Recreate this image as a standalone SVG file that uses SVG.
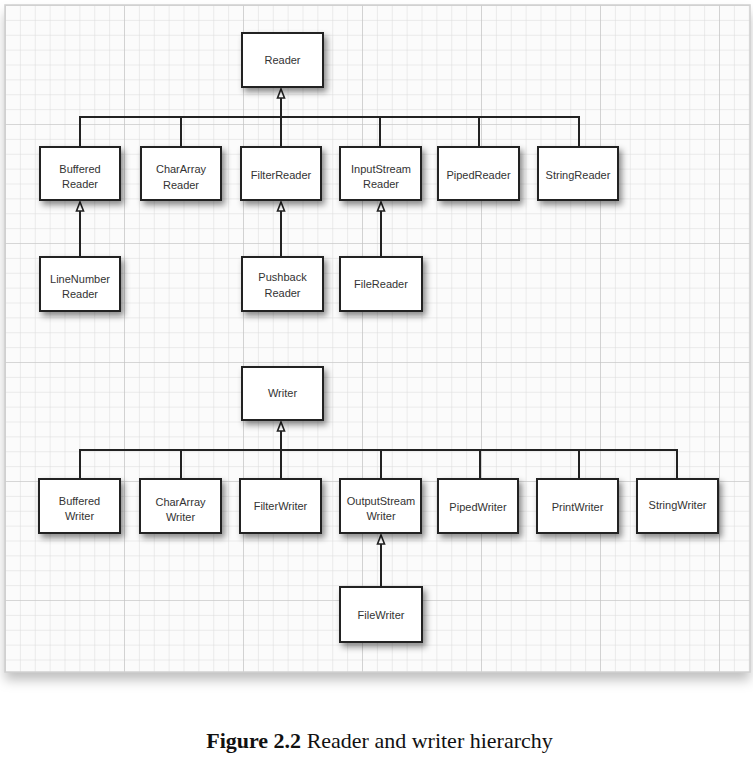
<svg xmlns="http://www.w3.org/2000/svg" width="753" height="758" viewBox="0 0 753 758">
<defs>
<pattern id="minor" x="5" y="5" width="14.875" height="14.875" patternUnits="userSpaceOnUse">
<path d="M0 0H14.875M0 0V14.875" fill="none" stroke="#dadada" stroke-width="1"/>
</pattern>
<pattern id="major" x="5" y="5" width="119" height="119" patternUnits="userSpaceOnUse">
<path d="M0 0H119M0 0V119" fill="none" stroke="#c2c2c2" stroke-width="1.2"/>
</pattern>
<filter id="sh" x="-20%" y="-20%" width="150%" height="160%">
<feDropShadow dx="3" dy="4" stdDeviation="3" flood-color="#000" flood-opacity="0.45"/>
</filter>
<filter id="psh" x="-5%" y="-5%" width="110%" height="115%">
<feDropShadow dx="0" dy="8" stdDeviation="6" flood-color="#000" flood-opacity="0.25"/>
</filter>
</defs>
<style>
.box{fill:#fff;stroke:#222;stroke-width:2;filter:url(#sh)}
.lbl{font-family:"Liberation Sans",Arial,sans-serif;font-size:11px;fill:#333;text-anchor:middle}
.ln{fill:none;stroke:#222;stroke-width:2}
.ah{fill:#fff;stroke:#222;stroke-width:1.6;stroke-linejoin:miter}
.cap{font-family:"Liberation Serif","Times New Roman",serif;font-size:22px;fill:#111;text-anchor:middle}
</style>
<rect width="753" height="758" fill="#fff"/>
<g id="paper">
<rect x="5" y="5" width="745" height="667" fill="#fbfbfb" filter="url(#psh)"/>
<rect x="5" y="5" width="745" height="667" fill="url(#minor)"/>
<rect x="5" y="5" width="745" height="667" fill="url(#major)"/>
<rect x="5" y="5" width="745" height="667" fill="none" stroke="#d0d0d0" stroke-width="1.5"/>
</g>
<g id="connectors">
<path class="ln" d="M80 147V117H579V147M181 117V147M380 117V147M479 117V147"/>
<path class="ln" d="M281 147V98"/>
<path class="ah" d="M281 89L284.5 98H277.5Z"/>
<path class="ln" d="M80 257V211"/>
<path class="ah" d="M80 202L83.5 211H76.5Z"/>
<path class="ln" d="M281 257V211"/>
<path class="ah" d="M281 202L284.5 211H277.5Z"/>
<path class="ln" d="M381 257V211"/>
<path class="ah" d="M381 202L384.5 211H377.5Z"/>
<path class="ln" d="M80 479V450H677V479M181 450V479M381 450V479M480 450V479M579 450V479"/>
<path class="ln" d="M281 479V431"/>
<path class="ah" d="M281 422L284.5 431H277.5Z"/>
<path class="ln" d="M381 587V544"/>
<path class="ah" d="M381 535L384.5 544H377.5Z"/>
</g>
<g id="Reader"><rect class="box" x="242" y="33" width="81" height="54"/><text class="lbl" x="282.5" y="64">Reader</text></g>
<g id="BufferedReader"><rect class="box" x="40" y="147" width="80" height="53"/><text class="lbl" x="80" y="173">Buffered</text><text class="lbl" x="80" y="188">Reader</text></g>
<g id="CharArrayReader"><rect class="box" x="141" y="147" width="80" height="53"/><text class="lbl" x="181" y="173">CharArray</text><text class="lbl" x="181" y="189">Reader</text></g>
<g id="FilterReader"><rect class="box" x="241" y="147" width="80" height="53"/><text class="lbl" x="281" y="179">FilterReader</text></g>
<g id="InputStreamReader"><rect class="box" x="340" y="147" width="81" height="53"/><text class="lbl" x="381" y="173">InputStream</text><text class="lbl" x="381" y="188">Reader</text></g>
<g id="PipedReader"><rect class="box" x="438" y="147" width="81" height="53"/><text class="lbl" x="478.5" y="179">PipedReader</text></g>
<g id="StringReader"><rect class="box" x="538" y="147" width="80" height="53"/><text class="lbl" x="578" y="179">StringReader</text></g>
<g id="LineNumberReader"><rect class="box" x="40" y="257" width="80" height="54"/><text class="lbl" x="80" y="283">LineNumber</text><text class="lbl" x="80" y="298">Reader</text></g>
<g id="PushbackReader"><rect class="box" x="242" y="257" width="81" height="54"/><text class="lbl" x="282.5" y="281">Pushback</text><text class="lbl" x="282.5" y="297">Reader</text></g>
<g id="FileReader"><rect class="box" x="340" y="257" width="82" height="54"/><text class="lbl" x="381" y="288">FileReader</text></g>
<g id="Writer"><rect class="box" x="242" y="367" width="81" height="53"/><text class="lbl" x="282.5" y="397">Writer</text></g>
<g id="BufferedWriter"><rect class="box" x="39" y="479" width="81" height="54"/><text class="lbl" x="79.5" y="505">Buffered</text><text class="lbl" x="79.5" y="520">Writer</text></g>
<g id="CharArrayWriter"><rect class="box" x="140" y="479" width="81" height="54"/><text class="lbl" x="180.5" y="506">CharArray</text><text class="lbl" x="180.5" y="521">Writer</text></g>
<g id="FilterWriter"><rect class="box" x="240" y="479" width="81" height="54"/><text class="lbl" x="280.5" y="510">FilterWriter</text></g>
<g id="OutputStreamWriter"><rect class="box" x="340" y="479" width="81" height="54"/><text class="lbl" x="381" y="505">OutputStream</text><text class="lbl" x="381" y="520">Writer</text></g>
<g id="PipedWriter"><rect class="box" x="438" y="479" width="80" height="54"/><text class="lbl" x="478" y="511">PipedWriter</text></g>
<g id="PrintWriter"><rect class="box" x="537" y="479" width="81" height="54"/><text class="lbl" x="577.5" y="511">PrintWriter</text></g>
<g id="StringWriter"><rect class="box" x="637" y="479" width="81" height="54"/><text class="lbl" x="677.5" y="509">StringWriter</text></g>
<g id="FileWriter"><rect class="box" x="340" y="587" width="82" height="55"/><text class="lbl" x="381" y="619">FileWriter</text></g>
<text class="cap" x="379.5" y="748"><tspan font-weight="bold">Figure 2.2</tspan> Reader and writer hierarchy</text>
</svg>
